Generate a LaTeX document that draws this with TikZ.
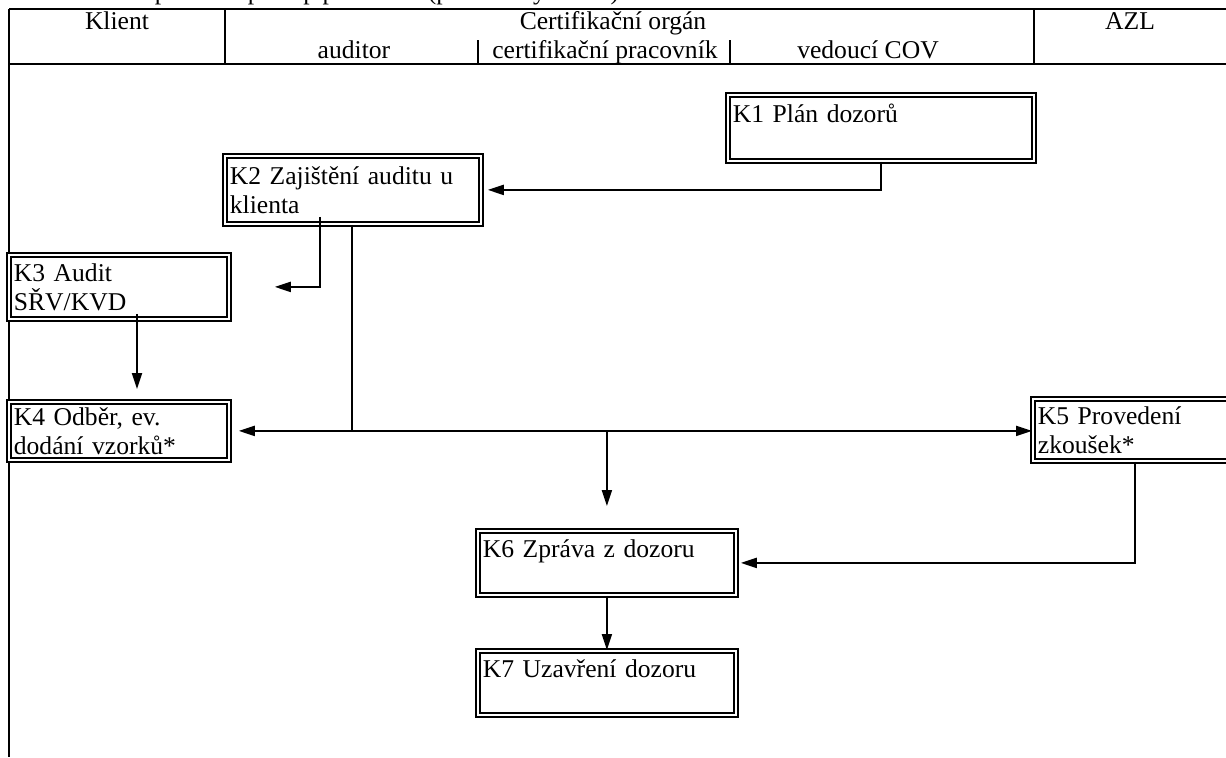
\documentclass[tikz,border=0pt]{standalone}
\usepackage{fontspec}
\setmainfont{Liberation Serif}
\usetikzlibrary{arrows.meta}
\tikzset{
  kbox/.style 2 args={draw, double, double distance=1pt, line width=0.9pt,
    anchor=north west, align=left, inner xsep=2.5pt, inner ysep=2pt,
    minimum width=#1, text width=#1-5pt, minimum height=#2},
  arr/.style={line width=1pt, -{Triangle[length=8pt,width=5pt]}},
  tline/.style={line width=1.2pt},
  head/.style={anchor=base, inner sep=0pt}
}
\begin{document}
\begin{tikzpicture}[x=0.5pt, y=-0.5pt, font=\fontsize{12.8}{14.5}\selectfont]
\useasboundingbox (0,0) rectangle (1226,757);
\clip (0,0) rectangle (1226,757);
\node [anchor=base west, inner sep=0pt] (title) at (20,-1) {Schéma 5b - procesní postup pro dozor (periodický dozor)};
% header
\draw [tline] (9,9) -- (1226,9) (9,64) -- (1226,64) (225,9) -- (225,64) (1034,9) -- (1034,64)
 (478,40) -- (478,64) (730,40) -- (730,64);
\draw [line width=1.4pt] (9,9) -- (9,757);
\node [head] (klient) at (117,29) {Klient};
\node [head] (co) at (613,29) {Certifikační orgán};
\node [head] (azl) at (1130,29) {AZL};
\node [head] (aud) at (354,58) {auditor};
\node [head] (cp) at (605,58) {certifikační pracovník};
\node [head] (ved) at (868,58) {vedoucí COV};
% boxes
\node [kbox={153pt}{33pt}] (K1) at (727,94) {K1 Plán dozorů\\\mbox{}};
\node [kbox={128pt}{34pt}] (K2) at (224,155) {K2 Zajištění auditu u\\klienta};
\node [kbox={110pt}{32pt}] (K3) at (8,254) {K3 Audit\\SŘV/KVD};
\node [kbox={110pt}{29pt}] (K4) at (8,401) {K4 Odběr, ev.\\dodání vzorků*};
\node [kbox={110pt}{31pt}] (K5) at (1032,398) {K5 Provedení\\zkoušek*};
\node [kbox={129pt}{32pt}] (K6) at (477,530) {K6 Zpráva z dozoru\\\mbox{}};
\node [kbox={129pt}{32pt}] (K7) at (477,650) {K7 Uzavření dozoru\\\mbox{}};
% connectors
\draw [arr, shorten >=3pt] (K1.south) |- (K2.east);
\draw [arr] ([xshift=48pt,yshift=4pt]K2.south west) |- ([xshift=22.5pt]K3.east);
\coordinate (top) at ([xshift=64pt]K2.south west);
\coordinate (J) at (top |- K4.east);
\draw [line width=1pt] (top) -- (J);
\draw [arr] (J) -- ([xshift=4.5pt]K4.east);
\draw [arr] (J) -- (K5.west |- J);
\draw [arr] (K6.north |- J) -- ([yshift=12pt]K6.north);
\draw [arr] ([xshift=64.5pt,yshift=3pt]K3.south west) -- ([xshift=64.5pt,yshift=6pt]K4.north west);
\draw [arr] ([xshift=51.5pt]K5.south west) |- ([xshift=2pt]K6.east);
\draw [arr] (K6.south) -- (K7.north);
\end{tikzpicture}
\end{document}
